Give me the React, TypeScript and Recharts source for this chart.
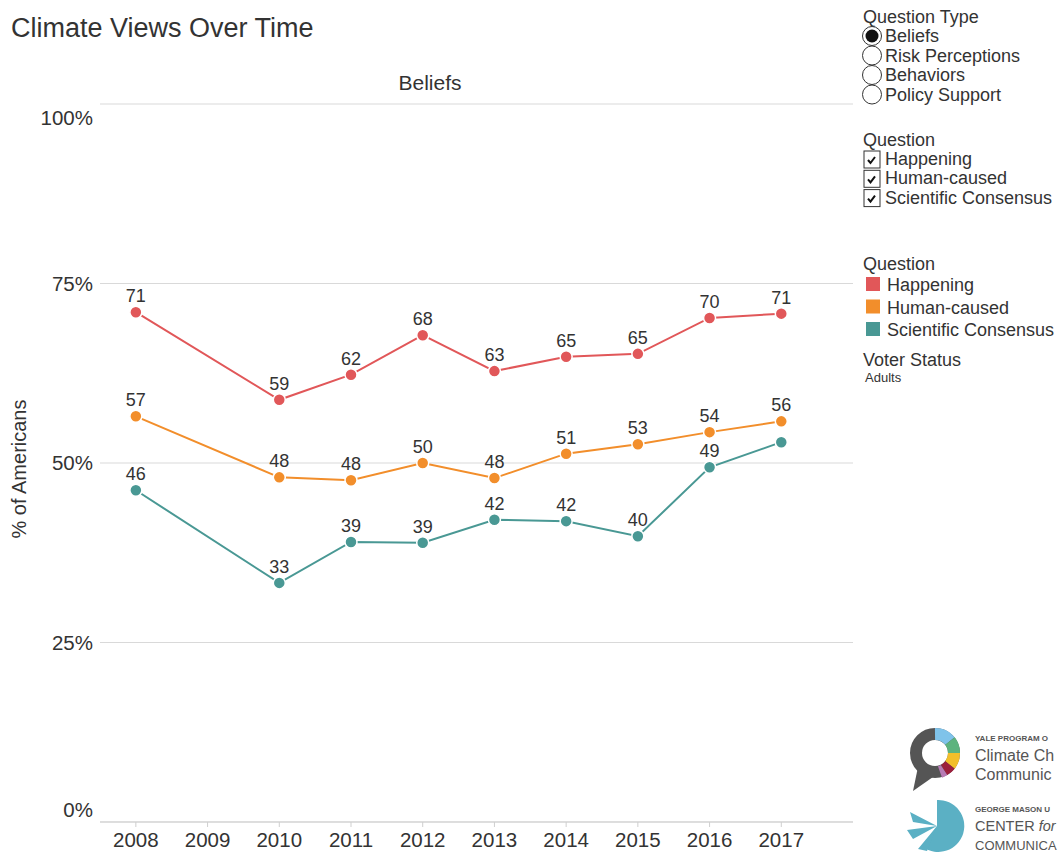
import React from 'react';
import { LineChart, Line, XAxis, YAxis, CartesianGrid, LabelList } from 'recharts';

const years = [2008, 2010, 2011, 2012, 2013, 2014, 2015, 2016, 2017];
const yearTicks = [2008, 2009, 2010, 2011, 2012, 2013, 2014, 2015, 2016, 2017];
const happening = [71.0, 58.8, 62.3, 67.8, 62.8, 64.8, 65.2, 70.2, 70.8];
const humanCaused = [56.5, 48.0, 47.6, 50.0, 47.9, 51.3, 52.6, 54.3, 55.8];
const consensus = [46.2, 33.3, 39.0, 38.9, 42.1, 41.9, 39.8, 49.4, 52.9];
const yTicks = [0, 25, 50, 75, 100];
// years whose label is hidden (overlap in the original)
const consensusHidden = [2017];

const RED = '#e15759';
const ORANGE = '#f28e2b';
const TEAL = '#499894';
const FONT = '"Liberation Sans", Arial, Helvetica, sans-serif';

const data = years.map((year, i) => ({
  year,
  happening: happening[i],
  humanCaused: humanCaused[i],
  consensus: consensus[i],
}));

const makeLabel = (hidden: number[]) => (props: any) => {
  const { x, y, value, index } = props;
  if (hidden.includes(years[index])) return null;
  return (
    <text x={x} y={y - 10} textAnchor="middle" fontSize={18} fill="#333" fontFamily={FONT}>
      {Math.round(value)}
    </text>
  );
};

const YTick = (props: any) => {
  const { x, y, payload } = props;
  let dy = 7;
  if (payload.value === 100) dy = 21;
  if (payload.value === 0) dy = -5;
  return (
    <text x={x + 1} y={y + dy} textAnchor="end" fontSize={20.5} fill="#333" fontFamily={FONT}>
      {payload.value}%
    </text>
  );
};

const XTick = (props: any) => {
  const { x, payload } = props;
  return (
    <text x={x} y={847} textAnchor="middle" fontSize={20.5} fill="#333" fontFamily={FONT}>
      {payload.value}
    </text>
  );
};

const dot = (color: string) => ({ r: 6, fill: color, stroke: '#fff', strokeWidth: 1.5 });

function Legend() {
  const t = { fontFamily: FONT, fill: '#333' } as const;
  const g = { fontFamily: FONT, fill: '#555' } as const;
  const radios = ['Beliefs', 'Risk Perceptions', 'Behaviors', 'Policy Support'];
  const checks = ['Happening', 'Human-caused', 'Scientific Consensus'];
  const colors: [string, string][] = [
    [RED, 'Happening'],
    [ORANGE, 'Human-caused'],
    [TEAL, 'Scientific Consensus'],
  ];
  return (
    <svg width={1059} height={852} style={{ position: 'absolute', left: 0, top: 0, pointerEvents: 'none' }}>
      <text x={11} y={37} fontSize={27} {...t}>Climate Views Over Time</text>
      <text x={430} y={90} fontSize={21} textAnchor="middle" {...t}>Beliefs</text>
      <text x={26} y={469} fontSize={20} textAnchor="middle" transform="rotate(-90 26 469)" {...t}>% of Americans</text>

      <text x={863} y={23} fontSize={18} {...t}>Question Type</text>
      {radios.map((r, i) => (
        <g key={r}>
          <circle cx={872} cy={36 + i * 19.5} r={9.5} fill="#fff" stroke="#333" strokeWidth={1} />
          {i === 0 && <circle cx={872} cy={36} r={6.5} fill="#111" />}
          <text x={885} y={42 + i * 19.5} fontSize={18} {...t}>{r}</text>
        </g>
      ))}

      <text x={863} y={146} fontSize={18} {...t}>Question</text>
      {checks.map((c, i) => (
        <g key={c}>
          <rect x={864} y={151 + i * 19.3} width={16} height={17} fill="#fff" stroke="#333" strokeWidth={1} />
          <path d={`M868 ${160 + i * 19.3} l2.5 3 l4.5 -6`} fill="none" stroke="#111" strokeWidth={2} />
          <text x={885} y={165 + i * 19.3} fontSize={18} {...t}>{c}</text>
        </g>
      ))}

      <text x={863} y={270} fontSize={18} {...t}>Question</text>
      {colors.map(([col, label], i) => (
        <g key={label}>
          <rect x={866} y={277 + i * 22.5} width={14} height={14} fill={col} />
          <text x={887} y={291 + i * 22.5} fontSize={18} {...t}>{label}</text>
        </g>
      ))}

      <text x={863} y={366} fontSize={18} {...t}>Voter Status</text>
      <text x={865} y={382} fontSize={13} {...t}>Adults</text>

      {/* Yale logo */}
      <g>
        <circle cx={935} cy={753} r={19} fill="none" stroke="#555" strokeWidth={12} />
        <path d="M935 734 A19 19 0 0 1 950 741" fill="none" stroke="#7fc3ea" strokeWidth={12} />
        <path d="M950 741 A19 19 0 0 1 954 753" fill="none" stroke="#5db37e" strokeWidth={12} />
        <path d="M954 753 A19 19 0 0 1 950 765" fill="none" stroke="#f2bf2a" strokeWidth={12} />
        <path d="M950 765 A19 19 0 0 1 944 770" fill="none" stroke="#9c1f3c" strokeWidth={12} />
        <path d="M944 770 A19 19 0 0 1 940 772" fill="none" stroke="#b77bb5" strokeWidth={12} />
        <path d="M918 767 L913 791 L933 777 Z" fill="#555" />
        <text x={975} y={741} fontSize={8} fontWeight="bold" {...g}>YALE PROGRAM O</text>
        <text x={975} y={761} fontSize={16} {...g}>Climate Ch</text>
        <text x={975} y={780} fontSize={16} {...g}>Communic</text>
      </g>
      {/* George Mason logo */}
      <g>
        <path d="M937 800 A26 26 0 1 1 923 847 L937 826 Z" fill="#5bb0c4" />
        <path d="M937 826 L910 812 L913 822 Z M937 826 L907 830 L913 839 Z M937 826 L918 849 L927 851 Z" fill="#5bb0c4" />
        <text x={975} y={812} fontSize={8} fontWeight="bold" {...g}>GEORGE MASON U</text>
        <text x={975} y={831} fontSize={14.5} {...g}>CENTER <tspan fontStyle="italic">for</tspan></text>
        <text x={975} y={850} fontSize={13} {...g}>COMMUNICA</text>
      </g>
    </svg>
  );
}

export default function App() {
  return (
    <div style={{ position: 'absolute', left: 0, top: 0, width: 1059, height: 852, background: '#fff', overflow: 'hidden', fontFamily: FONT }}>
      <LineChart width={860} height={852} data={data} margin={{ top: 104, right: 7, bottom: 0, left: 10 }}>
        <CartesianGrid vertical={false} stroke="#d9d9d9" />
        <XAxis
          dataKey="year"
          type="number"
          domain={[2007.5, 2017.5]}
          ticks={yearTicks}
          interval={0}
          height={30}
          tickSize={5}
          stroke="#cfcfcf"
          tick={<XTick />}
          allowDecimals={false}
        />
        <YAxis
          type="number"
          domain={[0, 100]}
          ticks={yTicks}
          width={90}
          axisLine={false}
          tickLine={false}
          tick={<YTick />}
        />
        <Line dataKey="happening" stroke={RED} strokeWidth={2} dot={dot(RED)} isAnimationActive={false}>
          <LabelList dataKey="happening" content={makeLabel([])} />
        </Line>
        <Line dataKey="humanCaused" stroke={ORANGE} strokeWidth={2} dot={dot(ORANGE)} isAnimationActive={false}>
          <LabelList dataKey="humanCaused" content={makeLabel([])} />
        </Line>
        <Line dataKey="consensus" stroke={TEAL} strokeWidth={2} dot={dot(TEAL)} isAnimationActive={false}>
          <LabelList dataKey="consensus" content={makeLabel(consensusHidden)} />
        </Line>
      </LineChart>
      <Legend />
    </div>
  );
}
